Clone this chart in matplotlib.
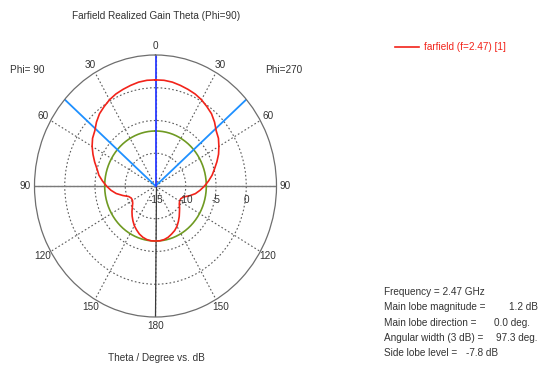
import matplotlib

matplotlib.use("Agg")
import matplotlib.pyplot as plt
import numpy as np

plt.rcParams["font.family"] = ["Liberation Sans", "DejaVu Sans"]
plt.rcParams["font.size"] = 7.2

# theta in degrees, realized gain in dB for the two half-planes
theta_deg = [0, 5, 10, 15, 20, 25, 30, 35, 40, 45, 50, 55, 60, 65, 70, 75, 80, 85, 90,
             95, 100, 105, 110, 115, 120, 125, 130, 135, 140, 145, 150, 155, 160, 165,
             170, 175, 180]
gain_phi90 = [1.2, 1.2, 1.1, 0.9, 0.7, 0.5, 0.2, -0.2, -0.6, -1.2, -1.9, -2.3, -2.9, -3.6,
              -4.3, -5.0, -5.5, -6.2, -6.9, -7.6, -8.4, -9.4, -10.3, -10.6, -10.6, -10.4,
              -10.0, -9.5, -9.0, -8.5, -8.0, -7.6, -7.2, -6.9, -6.7, -6.6, -6.6]
gain_phi270 = [1.2, 1.2, 1.1, 0.9, 0.7, 0.5, 0.2, -0.2, -0.6, -1.2, -1.9, -2.3, -2.9, -3.5,
               -4.2, -4.9, -5.5, -6.2, -6.9, -7.6, -8.3, -9.2, -10.1, -10.4, -10.4, -10.2,
               -9.8, -9.4, -8.9, -8.4, -7.9, -7.5, -7.2, -6.9, -6.7, -6.6, -6.6]

frequency_ghz = 2.47
main_lobe_db = 1.2
main_lobe_dir = 0.0
angular_width = 97.3
side_lobe_db = -7.8

r_min, r_max = -15, 5
ring_ticks = [-10, -5, 0]
angle_ticks = list(range(0, 360, 30))
angle_labels = ["0", "30", "60", "90", "120", "150", "180", "150", "120", "90", "60", "30"]

W, H = 542, 368


def px(x, y):
    return x / W, 1 - y / H


def main() -> None:
    fig = plt.figure(figsize=(W / 100, H / 100), dpi=100)
    ax = fig.add_axes([34.5 / W, (H - 317) / H, 242 / W, 262 / H], projection="polar")
    ax.set_aspect("auto")
    ax.set_theta_zero_location("N")
    ax.set_theta_direction(1)
    ax.set_rlim(r_min, r_max)

    ax.set_thetagrids(angle_ticks, angle_labels)
    ax.set_rgrids(ring_ticks, labels=[""] * len(ring_ticks))
    ax.grid(True, color="#5a5a5a", linestyle=(0, (1.5, 2)), linewidth=0.8)
    ax.tick_params(axis="x", pad=-4, labelsize=7.2, colors="#333333")
    ax.spines["polar"].set_color("#6e6e6e")
    ax.spines["polar"].set_linewidth(0.9)

    # solid axes through the origin
    ax.plot([np.pi / 2, np.pi / 2], [r_min, r_max], color="#7a7a7a", lw=1.0)
    ax.plot([3 * np.pi / 2, 3 * np.pi / 2], [r_min, r_max], color="#7a7a7a", lw=1.0)
    ax.plot([np.pi, np.pi], [r_min, r_max], color="#3a3a3a", lw=0.9)

    for r in [-15] + ring_ticks:
        ax.annotate(str(r), (3 * np.pi / 2, r), xytext=(0, -10), textcoords="offset points",
                    ha="center", va="center", fontsize=7.2, color="#333333")

    # side lobe level circle
    circ = np.linspace(0, 2 * np.pi, 361)
    ax.plot(circ, np.full_like(circ, main_lobe_db + side_lobe_db), color="#6f9a22", lw=1.2)

    # 3 dB beam width and main lobe direction
    half = np.deg2rad(angular_width / 2)
    main = np.deg2rad(main_lobe_dir)
    for a in (main - half, main + half):
        ax.plot([a, a], [r_min, r_max], color="#1e90ff", lw=1.3)
    ax.plot([main, main], [r_min, r_max], color="#2b3bff", lw=1.3)

    # pattern: phi=90 on the left half, phi=270 mirrored to the right
    th = np.deg2rad(theta_deg)
    ang = np.concatenate([th, 2 * np.pi - th[::-1]])
    gain = np.concatenate([gain_phi90, gain_phi270[::-1]])
    ax.plot(ang, gain, color="#f2231a", lw=1.2, label=f"farfield (f={frequency_ghz}) [1]")

    fig.text(*px(156, 16), "Farfield Realized Gain Theta (Phi=90)", ha="center", va="center",
             color="#333333")
    fig.text(*px(27, 70), "Phi= 90", ha="center", va="center", color="#333333")
    fig.text(*px(284, 70), "Phi=270", ha="center", va="center", color="#333333")
    fig.text(*px(156, 358), "Theta / Degree vs. dB", ha="center", va="center",
             color="#333333")

    ax.legend(loc="center left", bbox_to_anchor=px(395, 47), bbox_transform=fig.transFigure,
              frameon=False, handlelength=2.4, handletextpad=0.5, labelcolor="#f2231a",
              borderpad=0, borderaxespad=0)

    # summary block, values right-aligned at their column ends
    rows = [
        ("Frequency = 2.47 GHz", None, None),
        ("Main lobe magnitude =", f"{main_lobe_db:.1f} dB", 538),
        ("Main lobe direction =", f"{main_lobe_dir:.1f} deg.", 530),
        ("Angular width (3 dB) =", f"{angular_width:.1f} deg.", 538),
        ("Side lobe level =", f"{side_lobe_db:.1f} dB", 498),
    ]
    for i, (label, value, vx) in enumerate(rows):
        y = 292 + i * 15.3
        fig.text(*px(384, y), label, ha="left", va="center", color="#333333")
        if value:
            fig.text(*px(vx, y), value, ha="right", va="center", color="#333333")

    fig.savefig("out.png", dpi=100)


main() if __name__ == "__main__" else None
